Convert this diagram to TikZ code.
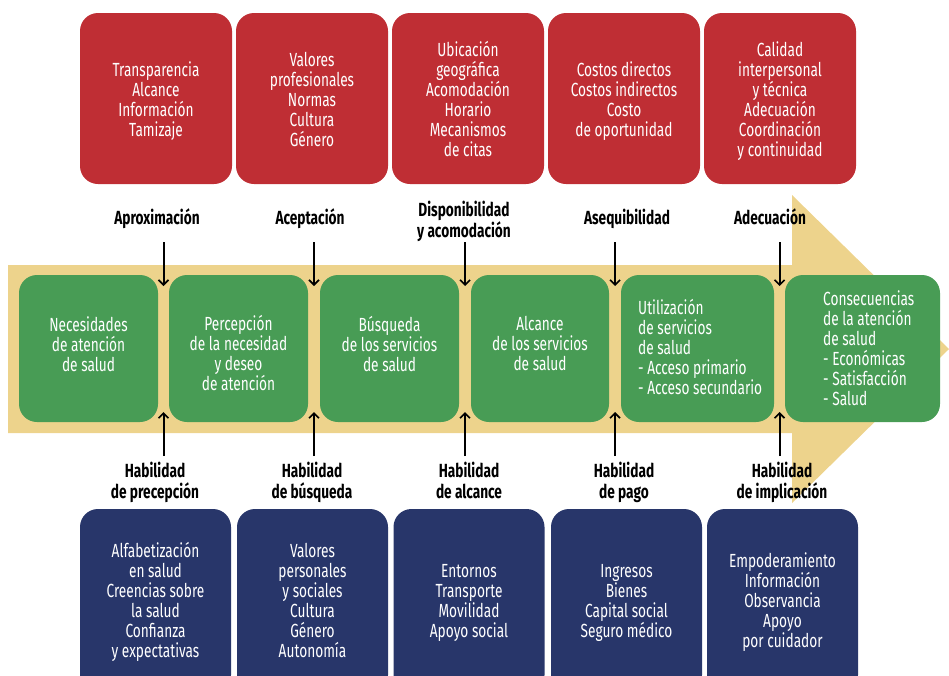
\documentclass[tikz,border=0pt]{standalone}
\usepackage{fontspec}
\setmainfont{Fira Sans}[FakeStretch=0.72]
\usetikzlibrary{arrows.meta}
\definecolor{cred}{HTML}{BF2E34}
\definecolor{cgreen}{HTML}{489C55}
\definecolor{ctan}{HTML}{EDD38C}
\definecolor{cnavy}{HTML}{28366A}
\newcommand\tp{\rule{0pt}{16pt}}
\newcommand\bt{\rule[-5pt]{0pt}{5pt}}
\begin{document}
\begin{tikzpicture}[x=1pt,y=-1pt,
  boxbase/.style={rounded corners=18pt, inner sep=0pt},
  redbox/.style={boxbase, fill=cred, minimum width=152pt, minimum height=171pt},
  greenbox/.style={boxbase, fill=cgreen, minimum height=147pt},
  navybox/.style={boxbase, fill=cnavy, minimum width=151pt, minimum height=184pt},
  intext/.style={text=white, inner sep=0pt, align=center, font=\fontsize{19}{20}\selectfont},
  lab/.style={inner sep=0pt, align=center, font=\fontsize{19}{21}\selectfont\bfseries},
  arr/.style={line width=2pt, -{Straight Barb[length=5pt,width=10pt,line width=1.6pt]}}]
\useasboundingbox (0,0) rectangle (949,675);
\clip (0,0) rectangle (949,675);

% big tan arrow
\fill[ctan] (8,265) -- (792,265) -- (792,195) -- (949,349) -- (792,503) -- (792,433) -- (8,433) -- cycle;

% top red boxes
\node[redbox] (r1) at (156,98.5) {};
\node[redbox] (r2) at (312,98.5) {};
\node[redbox] (r3) at (468,98.5) {};
\node[redbox] (r4) at (624,98.5) {};
\node[redbox] (r5) at (780,98.5) {};
\node[intext] (rt1) at (r1 |- 0,100.8) {\tp Transparencia\\Alcance\\Información\\Tamizaje\bt};
\node[intext] (rt2) at (r2 |- 0,100.8) {\tp Valores\\profesionales\\Normas\\Cultura\\Género\bt};
\node[intext] (rt3) at (r3 |- 0,100.8) {\tp Ubicación\\geográfica\\Acomodación\\Horario\\Mecanismos\\de citas\bt};
\node[intext] (rt4) at (r4 |- 0,100.8) {\tp Costos directos\\Costos indirectos\\Costo\\de oportunidad\bt};
\node[intext] (rt5) at (r5 |- 0,100.8) {\tp Calidad\\interpersonal\\y técnica\\Adecuación\\Coordinación\\y continuidad\bt};

% top labels
\node[lab, anchor=base] (l1) at (157,224) {Aproximación};
\node[lab, anchor=base] (l2) at (310,224) {Aceptación};
\node[lab] (l3) at (464,221) {\tp Disponibilidad\\y acomodación\bt};
\node[lab, anchor=base] (l4) at (627,224) {Asequibilidad};
\node[lab, anchor=base] (l5) at (770,224) {Adecuación};

% green boxes
\node[greenbox, minimum width=139pt] (g1) at (88.5,348.5) {};
\node[greenbox, minimum width=139pt] (g2) at (238.5,348.5) {};
\node[greenbox, minimum width=139pt] (g3) at (389.5,348.5) {};
\node[greenbox, minimum width=138pt] (g4) at (540,348.5) {};
\node[greenbox, minimum width=153pt] (g5) at (697.5,348.5) {};
\node[greenbox, minimum width=155pt] (g6) at (862.5,348.5) {};
\node[intext] (gt1) at (88.5,345.5) {\tp Necesidades\\de atención\\de salud\bt};
\node[intext] (gt2) at (238.5,355) {\tp Percepción\\de la necesidad\\y deseo\\de atención\bt};
\node[intext] (gt3) at (389.5,345.5) {\tp Búsqueda\\de los servicios\\de salud\bt};
\node[intext] (gt4) at (540,344.5) {\tp Alcance\\de los servicios\\de salud\bt};
\node[intext, align=left, anchor=west] (gt5) at (638,348.5) {\tp Utilización\\de servicios\\de salud\\- Acceso primario\\- Acceso secundario\bt};
\node[intext, align=left, anchor=west] (gt6) at (823,349.5) {\tp Consecuencias\\de la atención\\de salud\\- Económicas\\- Satisfacción\\- Salud\bt};

% bottom labels
\node[lab] (b1) at (155,482.5) {\tp Habilidad\\de precepción\bt};
\node[lab] (b2) at (312,482.5) {\tp Habilidad\\de búsqueda\bt};
\node[lab] (b3) at (469,482.5) {\tp Habilidad\\de alcance\bt};
\node[lab] (b4) at (624,482.5) {\tp Habilidad\\de pago\bt};
\node[lab] (b5) at (782,482.5) {\tp Habilidad\\de implicación\bt};

% bottom navy boxes
\node[navybox] (n1) at (155.5,601) {};
\node[navybox] (n2) at (312.5,601) {};
\node[navybox] (n3) at (469,601) {};
\node[navybox] (n4) at (626.5,601) {};
\node[navybox] (n5) at (782.5,601) {};
\node[intext] (nt1) at (n1 |- 0,602) {\tp Alfabetización\\en salud\\Creencias sobre\\la salud\\Confianza\\y expectativas\bt};
\node[intext] (nt2) at (n2 |- 0,602) {\tp Valores\\personales\\y sociales\\Cultura\\Género\\Autonomía\bt};
\node[intext] (nt3) at (n3 |- 0,602) {\tp Entornos\\Transporte\\Movilidad\\Apoyo social\bt};
\node[intext] (nt4) at (n4 |- 0,602) {\tp Ingresos\\Bienes\\Capital social\\Seguro médico\bt};
\node[intext] (nt5) at (n5 |- 0,602) {\tp Empoderamiento\\Información\\Observancia\\Apoyo\\por cuidador\bt};

% arrow coordinates
\foreach \i/\x in {1/163.5,2/314,3/465,4/615,5/779.5}{
  \coordinate (ds\i) at (\x,242);
  \coordinate (de\i) at (\x,286);
  \coordinate (us\i) at (\x,456);
  \coordinate (ue\i) at (\x,412);
}
\foreach \i in {1,...,5}{
  \draw[arr] (ds\i) -- (de\i);
  \draw[arr] (us\i) -- (ue\i);
}
\end{tikzpicture}
\end{document}
